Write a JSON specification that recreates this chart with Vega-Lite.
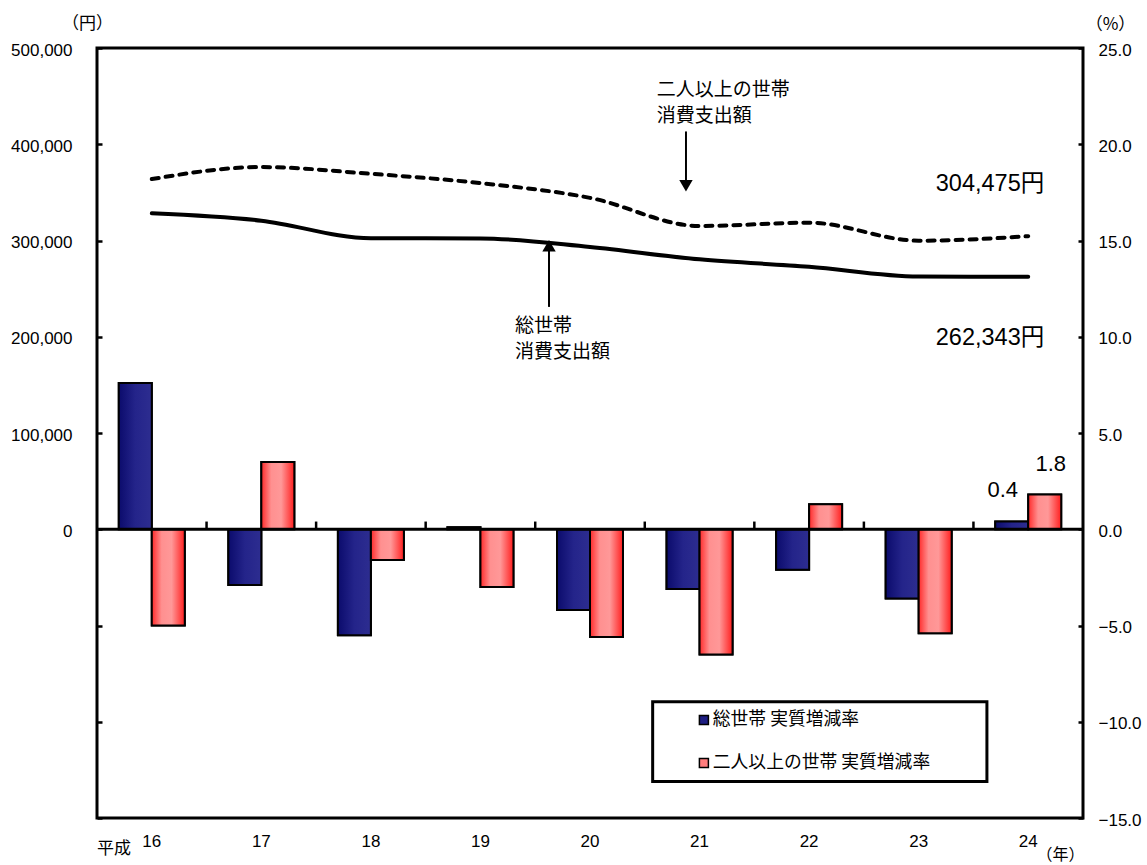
{
  "$schema": "https://vega.github.io/schema/vega-lite/v6.json",
  "width": 986,
  "height": 770,
  "autosize": {"type": "none"},
  "padding": {"left": 97, "top": 48, "right": 64, "bottom": 47},
  "background": "white",
  "config": {
    "view": {"stroke": "black", "strokeWidth": 3},
    "axis": {
      "grid": false,
      "titleFont": "Noto Sans CJK JP", "titleFontSize": 16, "titleFontWeight": "normal", "titleColor": "black",
      "labelColor": "black"
    },
    "axisX": {
      "labelFont": "Liberation Sans Narrow, Liberation Sans", "labelFontSize": 17, "labelFontWeight": "normal", "labelColor": "black",
      "labelPadding": 15, "labelAngle": 0, "ticks": false, "domain": false,
      "titleFont": "Noto Sans CJK JP", "titleFontSize": 16, "titleFontWeight": "normal"
    },
    "text": {"color": "black"}
  },
  "datasets": {
    "spending": [
      {"year": "16", "series": "総世帯", "amount": 328300},
      {"year": "17", "series": "総世帯", "amount": 320600},
      {"year": "18", "series": "総世帯", "amount": 302300},
      {"year": "19", "series": "総世帯", "amount": 302200},
      {"year": "20", "series": "総世帯", "amount": 293200},
      {"year": "21", "series": "総世帯", "amount": 280400},
      {"year": "22", "series": "総世帯", "amount": 272700},
      {"year": "23", "series": "総世帯", "amount": 262500},
      {"year": "24", "series": "総世帯", "amount": 262343},
      {"year": "16", "series": "二人以上の世帯", "amount": 363800},
      {"year": "17", "series": "二人以上の世帯", "amount": 376300},
      {"year": "18", "series": "二人以上の世帯", "amount": 369300},
      {"year": "19", "series": "二人以上の世帯", "amount": 359600},
      {"year": "20", "series": "二人以上の世帯", "amount": 344300},
      {"year": "21", "series": "二人以上の世帯", "amount": 315100},
      {"year": "22", "series": "二人以上の世帯", "amount": 318500},
      {"year": "23", "series": "二人以上の世帯", "amount": 299800},
      {"year": "24", "series": "二人以上の世帯", "amount": 304475}
    ],
    "rates": [
      {"year": "16", "series": "総世帯 実質増減率", "rate": 7.6},
      {"year": "17", "series": "総世帯 実質増減率", "rate": -2.9},
      {"year": "18", "series": "総世帯 実質増減率", "rate": -5.5},
      {"year": "19", "series": "総世帯 実質増減率", "rate": 0.1},
      {"year": "20", "series": "総世帯 実質増減率", "rate": -4.2},
      {"year": "21", "series": "総世帯 実質増減率", "rate": -3.1},
      {"year": "22", "series": "総世帯 実質増減率", "rate": -2.1},
      {"year": "23", "series": "総世帯 実質増減率", "rate": -3.6},
      {"year": "24", "series": "総世帯 実質増減率", "rate": 0.4},
      {"year": "16", "series": "二人以上の世帯 実質増減率", "rate": -5.0},
      {"year": "17", "series": "二人以上の世帯 実質増減率", "rate": 3.5},
      {"year": "18", "series": "二人以上の世帯 実質増減率", "rate": -1.6},
      {"year": "19", "series": "二人以上の世帯 実質増減率", "rate": -3.0},
      {"year": "20", "series": "二人以上の世帯 実質増減率", "rate": -5.6},
      {"year": "21", "series": "二人以上の世帯 実質増減率", "rate": -6.5},
      {"year": "22", "series": "二人以上の世帯 実質増減率", "rate": 1.3},
      {"year": "23", "series": "二人以上の世帯 実質増減率", "rate": -5.4},
      {"year": "24", "series": "二人以上の世帯 実質増減率", "rate": 1.8}
    ]
  },
  "layer": [
    {
      "data": {"name": "rates"},
      "mark": {"type": "bar", "stroke": "black", "strokeWidth": 2},
      "encoding": {
        "x": {
          "field": "year", "type": "ordinal",
          "scale": {"type": "band", "paddingInner": 0, "paddingOuter": 0},
          "axis": {
            "title": "（年）", "titleAngle": 0, "titleX": 963, "titleY": 36,
            "titleAlign": "center", "titleBaseline": "middle",
            "titleFont": "Noto Sans CJK JP", "titleFontSize": 16, "titleFontWeight": "normal", "titleColor": "black",
            "labelAngle": 0, "labelFont": "Liberation Sans Narrow, Liberation Sans", "labelFontSize": 17, "labelFontWeight": "normal", "labelColor": "black",
            "labelPadding": 15, "ticks": false, "domain": false
          }
        },
        "xOffset": {
          "field": "series", "type": "nominal",
          "scale": {"domain": ["総世帯 実質増減率", "二人以上の世帯 実質増減率"], "paddingInner": 0, "paddingOuter": 0.66}
        },
        "y": {
          "field": "rate", "type": "quantitative",
          "scale": {"domain": [-15, 25], "nice": false, "zero": false},
          "axis": {
            "orient": "right", "values": [-15, -10, -5, 0, 5, 10, 15, 20, 25], "format": ".1f",
            "title": "（%）", "titleAngle": 0, "titleX": 32, "titleY": -24,
            "titleAlign": "center", "titleBaseline": "middle",
            "titleFont": "Noto Sans CJK JP", "titleFontSize": 17, "titleFontWeight": "normal", "titleColor": "black",
            "labelFont": "Liberation Sans", "labelFontSize": 17, "labelColor": "black", "labelPadding": 15, "labelOffset": 2,
            "offset": -5, "tickSize": 5, "tickWidth": 2.5, "tickColor": "black", "domain": false
          }
        },
        "color": {
          "field": "series", "type": "nominal",
          "scale": {"domain": ["総世帯 実質増減率", "二人以上の世帯 実質増減率"], "range": ["#1d1d82", "#ff7d7d"]},
          "legend": {
            "orient": "none", "legendX": 598, "legendY": 663, "title": null, "direction": "vertical",
            "padding": 0, "rowPadding": 24, "zindex": 2,
            "symbolType": "square", "symbolSize": 81, "symbolStrokeColor": "black", "symbolStrokeWidth": 1.5,
            "labelFont": "Noto Sans CJK JP", "labelFontSize": 17.8, "labelColor": "black", "labelOffset": 0, "labelLimit": 400
          }
        }
      }
    },
    {
      "data": {"name": "rates"},
      "transform": [{"filter": "datum.series == '総世帯 実質増減率'"}],
      "mark": {
        "type": "bar", "stroke": "black", "strokeWidth": 2,
        "fill": {"gradient": "linear", "x1": 0, "x2": 1, "y1": 0, "y2": 0,
          "stops": [{"offset": 0, "color": "#0b0b6c"}, {"offset": 0.5, "color": "#24248a"}, {"offset": 1, "color": "#2d2d90"}]}
      },
      "encoding": {
        "x": {"field": "year", "type": "ordinal", "scale": {"type": "band", "paddingInner": 0, "paddingOuter": 0}},
        "xOffset": {"field": "series", "type": "nominal", "scale": {"domain": ["総世帯 実質増減率", "二人以上の世帯 実質増減率"], "paddingInner": 0, "paddingOuter": 0.66}},
        "y": {"field": "rate", "type": "quantitative", "scale": {"domain": [-15, 25], "nice": false, "zero": false}, "axis": null}
      }
    },
    {
      "data": {"name": "rates"},
      "transform": [{"filter": "datum.series == '二人以上の世帯 実質増減率'"}],
      "mark": {
        "type": "bar", "stroke": "black", "strokeWidth": 2,
        "fill": {"gradient": "linear", "x1": 0, "x2": 1, "y1": 0, "y2": 0,
          "stops": [{"offset": 0, "color": "#ff2a2a"}, {"offset": 0.3, "color": "#ff9090"}, {"offset": 0.6, "color": "#ff9898"}, {"offset": 1, "color": "#ff1e1e"}]}
      },
      "encoding": {
        "x": {"field": "year", "type": "ordinal", "scale": {"type": "band", "paddingInner": 0, "paddingOuter": 0}},
        "xOffset": {"field": "series", "type": "nominal", "scale": {"domain": ["総世帯 実質増減率", "二人以上の世帯 実質増減率"], "paddingInner": 0, "paddingOuter": 0.66}},
        "y": {"field": "rate", "type": "quantitative", "scale": {"domain": [-15, 25], "nice": false, "zero": false}, "axis": null}
      }
    },
    {
      "data": {"values": [{}]},
      "mark": {"type": "rule", "color": "black", "strokeWidth": 3},
      "encoding": {
        "y": {"datum": 0, "type": "quantitative", "scale": {"domain": [-15, 25], "nice": false, "zero": false}, "axis": null}
      }
    },
    {
      "data": {"name": "rates"},
      "transform": [{"filter": "datum.series == '総世帯 実質増減率' && datum.year != '16'"}],
      "mark": {"type": "rule", "color": "black", "strokeWidth": 2.5},
      "encoding": {
        "x": {"field": "year", "type": "ordinal", "bandPosition": 0, "scale": {"type": "band", "paddingInner": 0, "paddingOuter": 0}},
        "y": {"datum": 0, "type": "quantitative", "scale": {"domain": [-15, 25], "nice": false, "zero": false}, "axis": null},
        "y2": {"datum": 0.4}
      }
    },
    {
      "data": {"name": "rates"},
      "transform": [{"filter": "datum.year == '24' && datum.series == '総世帯 実質増減率'"}],
      "mark": {"type": "text", "font": "Liberation Sans", "fontSize": 22, "align": "center", "baseline": "middle", "dx": -9, "dy": -32},
      "encoding": {
        "x": {"field": "year", "type": "ordinal", "scale": {"type": "band", "paddingInner": 0, "paddingOuter": 0}},
        "xOffset": {"field": "series", "type": "nominal", "scale": {"domain": ["総世帯 実質増減率", "二人以上の世帯 実質増減率"], "paddingInner": 0, "paddingOuter": 0.66}},
        "y": {"field": "rate", "type": "quantitative", "scale": {"domain": [-15, 25], "nice": false, "zero": false}, "axis": null},
        "text": {"field": "rate", "type": "quantitative", "format": ".1f"}
      }
    },
    {
      "data": {"name": "rates"},
      "transform": [{"filter": "datum.year == '24' && datum.series == '二人以上の世帯 実質増減率'"}],
      "mark": {"type": "text", "font": "Liberation Sans", "fontSize": 22, "align": "center", "baseline": "middle", "dx": 6, "dy": -31},
      "encoding": {
        "x": {"field": "year", "type": "ordinal", "scale": {"type": "band", "paddingInner": 0, "paddingOuter": 0}},
        "xOffset": {"field": "series", "type": "nominal", "scale": {"domain": ["総世帯 実質増減率", "二人以上の世帯 実質増減率"], "paddingInner": 0, "paddingOuter": 0.66}},
        "y": {"field": "rate", "type": "quantitative", "scale": {"domain": [-15, 25], "nice": false, "zero": false}, "axis": null},
        "text": {"field": "rate", "type": "quantitative", "format": ".1f"}
      }
    },
    {
      "data": {"values": [{}]},
      "mark": {"type": "rect", "fill": "white", "stroke": "black", "strokeWidth": 3},
      "encoding": {
        "x": {"datum": "21", "type": "ordinal", "bandPosition": 0.072},
        "x2": {"datum": "24", "bandPosition": 0.123},
        "y": {"datum": -8.96, "type": "quantitative", "scale": {"domain": [-15, 25], "nice": false, "zero": false}, "axis": null},
        "y2": {"datum": -13.11}
      }
    },
    {
      "data": {"values": [{}]},
      "mark": {"type": "text", "text": "平成", "font": "Noto Sans CJK JP", "fontSize": 17, "align": "left", "baseline": "middle", "dx": 0, "dy": 31},
      "encoding": {
        "x": {"datum": "16", "type": "ordinal", "bandPosition": 0},
        "y": {"datum": -15, "type": "quantitative", "scale": {"domain": [-15, 25], "nice": false, "zero": false}, "axis": null}
      }
    },
    {
      "data": {"name": "spending"},
      "transform": [{"filter": "datum.series == '総世帯'"}],
      "mark": {"type": "line", "color": "black", "strokeWidth": 4, "interpolate": "monotone", "strokeCap": "round"},
      "encoding": {
        "x": {"field": "year", "type": "ordinal", "bandPosition": 0.5, "scale": {"type": "band", "paddingInner": 0, "paddingOuter": 0}},
        "y": {
          "field": "amount", "type": "quantitative",
          "scale": {"domain": [-300000, 500000], "nice": false, "zero": false},
          "axis": {
            "orient": "left",
            "values": [-300000, -200000, -100000, 0, 100000, 200000, 300000, 400000, 500000],
            "labelExpr": "datum.value < 0 ? '' : format(datum.value, ',')",
            "title": "（円）", "titleAngle": 0, "titleX": -15, "titleY": -25,
            "titleAlign": "center", "titleBaseline": "middle",
            "titleFont": "Noto Sans CJK JP", "titleFontSize": 17, "titleFontWeight": "normal", "titleColor": "black",
            "labelFont": "Liberation Sans", "labelFontSize": 17, "labelColor": "black", "labelPadding": 25, "labelOffset": 2,
            "offset": -5, "tickSize": 5, "tickWidth": 2.5, "tickColor": "black", "domain": false
          }
        }
      }
    },
    {
      "data": {"name": "spending"},
      "transform": [{"filter": "datum.series == '二人以上の世帯'"}],
      "mark": {"type": "line", "color": "black", "strokeWidth": 4, "interpolate": "monotone", "strokeDash": [7, 7], "strokeCap": "round"},
      "encoding": {
        "x": {"field": "year", "type": "ordinal", "bandPosition": 0.5, "scale": {"type": "band", "paddingInner": 0, "paddingOuter": 0}},
        "y": {"field": "amount", "type": "quantitative", "scale": {"domain": [-300000, 500000], "nice": false, "zero": false}, "axis": null}
      }
    },
    {
      "data": {"name": "spending"},
      "transform": [{"filter": "datum.year == '24' && datum.series == '二人以上の世帯'"}],
      "mark": {"type": "text", "text": {"expr": "format(datum.amount, ',') + '円'"}, "font": "Liberation Sans, Noto Sans CJK JP", "fontSize": 23.5, "align": "right", "baseline": "middle", "dx": 16, "dy": -52},
      "encoding": {
        "x": {"field": "year", "type": "ordinal", "bandPosition": 0.5, "scale": {"type": "band", "paddingInner": 0, "paddingOuter": 0}},
        "y": {"field": "amount", "type": "quantitative", "scale": {"domain": [-300000, 500000], "nice": false, "zero": false}, "axis": null}
      }
    },
    {
      "data": {"name": "spending"},
      "transform": [{"filter": "datum.year == '24' && datum.series == '総世帯'"}],
      "mark": {"type": "text", "text": {"expr": "format(datum.amount, ',') + '円'"}, "font": "Liberation Sans, Noto Sans CJK JP", "fontSize": 23.5, "align": "right", "baseline": "middle", "dx": 16, "dy": 61},
      "encoding": {
        "x": {"field": "year", "type": "ordinal", "bandPosition": 0.5, "scale": {"type": "band", "paddingInner": 0, "paddingOuter": 0}},
        "y": {"field": "amount", "type": "quantitative", "scale": {"domain": [-300000, 500000], "nice": false, "zero": false}, "axis": null}
      }
    },
    {
      "data": {"values": [{}]},
      "mark": {"type": "rule", "color": "black", "strokeWidth": 2},
      "encoding": {
        "x": {"datum": "21", "type": "ordinal", "bandPosition": 0.376},
        "y": {"datum": 413300, "type": "quantitative", "scale": {"domain": [-300000, 500000], "nice": false, "zero": false}, "axis": null},
        "y2": {"datum": 360000}
      }
    },
    {
      "data": {"values": [{}]},
      "mark": {"type": "point", "shape": "triangle-down", "filled": true, "color": "black", "opacity": 1, "size": 180, "strokeWidth": 0},
      "encoding": {
        "x": {"datum": "21", "type": "ordinal", "bandPosition": 0.376},
        "y": {"datum": 356900, "type": "quantitative", "scale": {"domain": [-300000, 500000], "nice": false, "zero": false}, "axis": null}
      }
    },
    {
      "data": {"values": [{}]},
      "mark": {"type": "rule", "color": "black", "strokeWidth": 2},
      "encoding": {
        "x": {"datum": "20", "type": "ordinal", "bandPosition": 0.126},
        "y": {"datum": 231000, "type": "quantitative", "scale": {"domain": [-300000, 500000], "nice": false, "zero": false}, "axis": null},
        "y2": {"datum": 290000}
      }
    },
    {
      "data": {"values": [{}]},
      "mark": {"type": "point", "shape": "triangle-up", "filled": true, "color": "black", "opacity": 1, "size": 180, "strokeWidth": 0},
      "encoding": {
        "x": {"datum": "20", "type": "ordinal", "bandPosition": 0.126},
        "y": {"datum": 294500, "type": "quantitative", "scale": {"domain": [-300000, 500000], "nice": false, "zero": false}, "axis": null}
      }
    },
    {
      "data": {"values": [{}]},
      "mark": {"type": "text", "text": ["二人以上の世帯", "消費支出額"], "lineHeight": 26, "font": "Noto Sans CJK JP", "fontSize": 19, "align": "left", "baseline": "middle"},
      "encoding": {
        "x": {"datum": "21", "type": "ordinal", "bandPosition": 0.11},
        "y": {"datum": 456000, "type": "quantitative", "scale": {"domain": [-300000, 500000], "nice": false, "zero": false}, "axis": null}
      }
    },
    {
      "data": {"values": [{}]},
      "mark": {"type": "text", "text": ["総世帯", "消費支出額"], "lineHeight": 26, "font": "Noto Sans CJK JP", "fontSize": 19, "align": "left", "baseline": "middle"},
      "encoding": {
        "x": {"datum": "19", "type": "ordinal", "bandPosition": 0.815},
        "y": {"datum": 210750, "type": "quantitative", "scale": {"domain": [-300000, 500000], "nice": false, "zero": false}, "axis": null}
      }
    }
  ],
  "resolve": {"scale": {"y": "independent"}}
}
